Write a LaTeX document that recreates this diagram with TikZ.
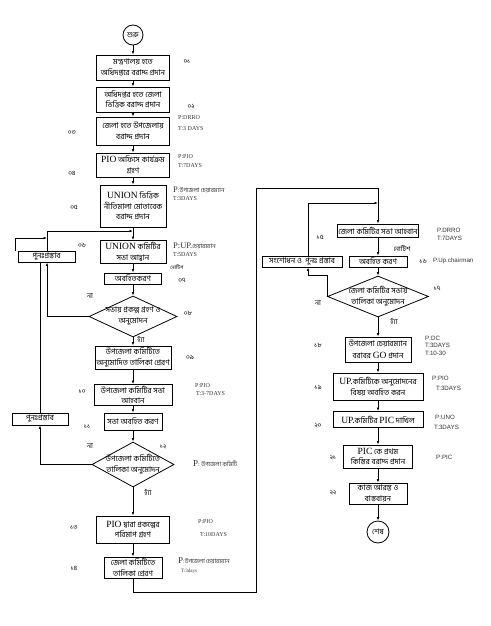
\documentclass[tikz,border=0pt]{standalone}
\usepackage{fontspec}
\setmainfont{Liberation Serif}
\newfontfamily\bn[Script=Bengali]{Hind Siliguri}
\newfontfamily\lsans{Liberation Sans}
\newfontfamily\latf{Liberation Serif}
\newcommand\lat[1]{{\latf\fontsize{9.5}{9.5}\selectfont #1}}
\usetikzlibrary{shapes.geometric,arrows.meta}

\tikzset{
  box/.style={draw,line width=0.8pt,font={\bn\fontsize{7.8}{10.5}\selectfont},
    align=center,inner sep=1pt},
  dia/.style={draw,diamond,line width=0.8pt,inner sep=0pt},
  dtext/.style={font={\bn\fontsize{7.8}{11}\selectfont},align=center,inner sep=0pt},
  term/.style={draw,circle,line width=0.8pt,minimum size=20pt,inner sep=0pt,
    font={\bn\fontsize{7.5}{8}\selectfont}},
  arr/.style={line width=0.7pt,-{Latex[length=3.5pt,width=2.6pt]}},
  wire/.style={line width=0.7pt},
  num/.style={font={\bn\fontsize{6.5}{7}\selectfont},inner sep=0pt},
  note/.style={font={\bn\fontsize{7}{7}\selectfont},inner sep=0pt},
  pt/.style={font=\fontsize{6}{7}\selectfont,anchor=west,inner sep=0pt,text=black!80},
  ps/.style={font={\lsans\fontsize{6.2}{7}\selectfont},anchor=west,inner sep=0pt,text=black!80}
}

\begin{document}
\begin{tikzpicture}[x=1pt,y=-1pt]
\useasboundingbox (0,0) rectangle (490,626);

% left column
\node[term] (st) at (133,35) {শুরু};
\node[box,minimum width=73pt,minimum height=25pt] (b01) at (133,67.5) {মন্ত্রণালয় হতে\\অধিদপ্তরে বরাদ্দ প্রদান};
\node[box,minimum width=73pt,minimum height=25pt] (b02) at (133,99.5) {অধিদপ্তর হতে জেলা\\ভিত্তিক বরাদ্দ প্রদান};
\node[box,minimum width=73pt,minimum height=28pt] (b03) at (133,131) {জেলা হতে উপজেলায়\\বরাদ্দ প্রদান};
\node[box,minimum width=73pt,minimum height=24pt] (b04) at (133,165) {\lat{PIO} অফিসে কার্যক্রম\\গ্রহণ};
\node[box,minimum width=66pt,minimum height=42pt] (b05) at (133,206) {\lat{UNION} ভিত্তিক\\নীতিমালা মোতাবেক\\বরাদ্দ প্রদান};
\node[box,minimum width=66pt,minimum height=23pt] (b06) at (133,252) {\lat{UNION} কমিটির\\সভা আহ্বান};
\node[box,minimum width=57pt,minimum height=11pt] (b07) at (133,278.5) {অবহিতকরণ};
\node[dia,minimum width=88pt,minimum height=41pt] (d08) at (133,316.5) {};
\node[dtext] (d08t) at (133,316.5) {সভায় প্রকল্প গ্রহণ ও\\অনুমোদন};
\node[box,minimum width=76pt,minimum height=23pt] (b09) at (133,357.5) {উপজেলা কমিটিতে\\অনুমোদিত তালিকা প্রেরণ};
\node[box,minimum width=78pt,minimum height=21pt] (b10) at (133,395) {উপজেলা কমিটির সভা\\আহবান};
\node[box,minimum width=58pt,minimum height=17pt] (b11) at (133,421.5) {সভা অবহিত করণ};
\node[dia,minimum width=82pt,minimum height=45pt] (d12) at (133,464.5) {};
\node[dtext] (d12t) at (133,464.5) {উপজেলা কমিটিতে\\তালিকা অনুমোদন};
\node[box,minimum width=73pt,minimum height=27pt] (b13) at (133,529.5) {\lat{PIO} দ্বারা প্রকল্পের\\পরিমাপ গ্রহণ};
\node[box,minimum width=58pt,minimum height=21pt] (b14) at (133,567.5) {জেলা কমিটিতে\\তালিকা প্রেরণ};
\node[box,minimum width=57pt,minimum height=11pt] (rp1) at (46.5,256.5) {পুনঃপ্রস্তাব};
\node[box,minimum width=56pt,minimum height=12pt] (rp2) at (40,419) {পুনঃপ্রস্তাব};

% right column
\node[box,minimum width=81pt,minimum height=13pt] (b15) at (378,230.5) {জেলা কমিটির সভা আহবান};
\node[box,minimum width=58pt,minimum height=11pt] (b16) at (378,261.5) {অবহিত করণ};
\node[box,minimum width=80pt,minimum height=11pt] (rev) at (302,261.5) {সংশোধন ও \ পুনঃ প্রস্তাব};
\node[dia,minimum width=101pt,minimum height=41pt] (d17) at (378,296.5) {};
\node[dtext] (d17t) at (378,296.5) {জেলা কমিটির সভায়\\তালিকা অনুমোদন};
\node[box,minimum width=66pt,minimum height=25pt] (b18) at (378,349.5) {উপজেলা চেয়ারম্যান\\[1pt]বরাবর \lat{GO} প্রদান};
\node[box,minimum width=90pt,minimum height=27pt] (b19) at (378,386.5) {\lat{UP.}কমিটিকে অনুমোদনের\\বিষয় অবহিত করন};
\node[box,minimum width=90pt,minimum height=16pt] (b20) at (378,419.5) {\lat{UP.}কমিটির \lat{PIC} দাখিল};
\node[box,minimum width=69pt,minimum height=23pt] (b21) at (378,456.5) {\lat{PIC} কে প্রথম\\কিস্তির বরাদ্দ প্রদান};
\node[box,minimum width=58pt,minimum height=21pt] (b22) at (378,493.5) {কাজ আরম্ভ ও\\বাস্তবায়ন};
\node[term,minimum size=22pt] (en) at (378,532) {শেষ};

% straight arrows
\foreach \a/\b in {st/b01,b01/b02,b02/b03,b03/b04,b04/b05,b05/b06,b06/b07,b07/d08,
  d08/b09,b09/b10,b10/b11,b11/d12,d12/b13,b13/b14,
  b15/b16,b16/d17,d17/b18,b18/b19,b19/b20,b20/b21,b21/b22,b22/en}
  \draw[arr] (\a) -- (\b);

% loops
\coordinate (ra) at (47,231);
\coordinate (ob) at (15,238);
\coordinate (lpa) at (256,592);
\coordinate (lpb) at (256,188);
\coordinate (rl) at (308,203);
\coordinate (nq) at (308,275);
\draw[arr] (rp1.north -| ra) -- (ra) -- (ra -| b06);
\draw[arr] (rp1.north -| ob) -- (ob) -- (ra |- ob);
\draw[wire] (rp2.north) -- (rp2.north |- rp1.south);
\draw[arr] (d08.west) -| (rp1.south -| ra);
\draw[arr] (d12.west) -| (rp2.south);
\draw[arr] (b14) -- (b14 |- lpa) -- (lpa) -- (lpb) -- (lpb -| b15) -- (b15);
\draw[arr] (rev.north -| rl) -- (rl) -- (rl -| b15);
\draw[arr] (d17.west) |- (nq) -- (rev.south -| nq);

% yes / no / notice
\node[note] (n08) at (90,296) {না};
\node[note] (y08) at (141,339) {হ্যাঁ};
\node[note] (n12) at (90,446) {না};
\node[note] (y12) at (148,492) {হ্যাঁ};
\node[note] (n17) at (318,303) {না};
\node[note] (y17) at (394,321) {হ্যাঁ};
\node[note,font={\bn\fontsize{5}{6}\selectfont}] (nt06) at (177,267) {নোটিশ};
\node[note,font={\bn\fontsize{6.5}{7}\selectfont}] (nt15) at (402,249) {নোটিশ};

% step numbers
\node[num] (s01) at (187,62) {০১};
\node[num] (s02) at (191,107) {০২};
\node[num] (s03) at (72,133) {০৩};
\node[num] (s04) at (72,173) {০৪};
\node[num] (s05) at (74,207) {০৫};
\node[num] (s06) at (82,245) {০৬};
\node[num] (s07) at (182,280) {০৭};
\node[num] (s08) at (188,313) {০৮};
\node[num] (s09) at (190,357) {০৯};
\node[num] (s10) at (82,392) {১০};
\node[num] (s11) at (87,427) {১১};
\node[num] (s12) at (163,447) {১২};
\node[num] (s13) at (74,528) {১৩};
\node[num] (s14) at (74,568) {১৪};
\node[num] (s15) at (320,237) {১৫};
\node[num] (s16) at (423,261) {১৬};
\node[num] (s17) at (437,288) {১৭};
\node[num] (s18) at (318,345) {১৮};
\node[num] (s19) at (318,387) {১৯};
\node[num] (s20) at (318,426) {২০};
\node[num] (s21) at (333,458) {২১};
\node[num] (s22) at (333,493) {২২};

% person / time
\node[pt] (p03) at (178,118) {P:DRRO};
\node[pt] (t03) at (178,129) {T:3 DAYS};
\node[pt] (p04) at (178,157) {P:PIO};
\node[pt] (t04) at (178,166) {T:7DAYS};
\node[pt] (p05) at (173,190) {{\fontsize{8.5}{9}\selectfont P}:{\bn উপজেলা চেয়ারম্যান}};
\node[pt] (t05) at (173,199) {T:3DAYS};
\node[pt] (p06) at (173,246) {{\fontsize{8.5}{9}\selectfont P:UP.}{\bn চেয়ারম্যান}};
\node[pt] (t06) at (173,255) {T:5DAYS};
\node[pt] (p10) at (195,386) {P:PIO};
\node[pt] (t10) at (196,394) {T:3-7DAYS};
\node[pt] (p12) at (193,464) {{\fontsize{9}{9}\selectfont P}: {\bn উপজেলা কমিটি}};
\node[pt] (p13) at (198,522) {P:PIO};
\node[pt] (t13) at (200,535) {T:10DAYS};
\node[pt] (p14) at (178,561) {{\fontsize{9}{9}\selectfont P}:{\bn উপজেলা চেয়ারম্যান}};
\node[pt,font=\fontsize{5}{6}\selectfont] (t14) at (181,571) {T:3days};
\node[ps] (p15) at (437,230) {P.DRRO};
\node[ps] (t15) at (437,238) {T:7DAYS};
\node[ps] (p16) at (433,261) {P.Up.chairman};
\node[ps] (p18) at (425,338) {P:DC};
\node[ps] (t18) at (425,345) {T:3DAYS};
\node[ps] (t18b) at (425,353) {T:10-30};
\node[ps] (p19) at (432,378) {P:PIO};
\node[ps] (t19) at (436,388) {T:3DAYS};
\node[ps] (p20) at (435,417) {P:UNO};
\node[ps] (t20) at (434,427) {T:3DAYS};
\node[ps] (p21) at (436,457) {P:PIC};
\end{tikzpicture}
\end{document}
